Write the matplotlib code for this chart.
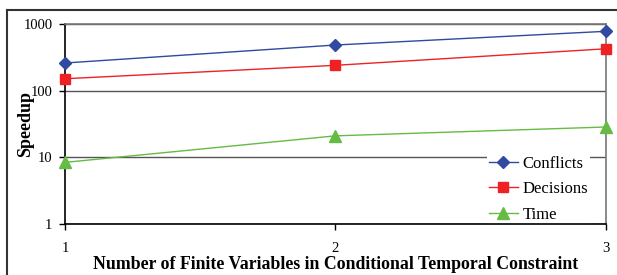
import matplotlib
matplotlib.use("Agg")
import matplotlib.pyplot as plt
from matplotlib.lines import Line2D

plt.rcParams['font.family'] = ['Liberation Serif', 'DejaVu Serif']

num_vars = [1, 2, 3]
conflicts = [260, 484, 777]
decisions = [151, 240, 425]
time_speedup = [8.4, 21, 28.5]
yticks = [1, 10, 100, 1000]

fig = plt.figure(figsize=(6.17, 2.75), dpi=100)
ax = fig.add_axes([0.1053, 0.1855, 0.8767, 0.7272])

ax.plot(num_vars, conflicts, color='#2F4AA0', lw=1, marker='D', ms=6, label='Conflicts', clip_on=False, zorder=5)
ax.plot(num_vars, decisions, color='#EE2224', lw=1, marker='s', ms=7, label='Decisions', clip_on=False, zorder=5)
ax.plot(num_vars, time_speedup, color='#66BB44', lw=1, marker='^', ms=8, label='Time', clip_on=False, zorder=5)

ax.set_yscale('log')
ax.set_ylim(1, 1000)
ax.set_xlim(1, 3)
ax.set_yticks(yticks)
ax.set_yticklabels([str(v) for v in yticks])
ax.minorticks_off()
ax.set_xticks(num_vars)
ax.set_xticklabels([str(v) for v in num_vars])
ax.tick_params(axis='y', direction='out', length=4, width=1, labelsize=10.5, pad=5)
ax.tick_params(axis='x', direction='out', length=4, width=1, labelsize=10.5, pad=9)

ax.grid(axis='y', color='#555555', lw=1)
ax.set_axisbelow(True)
for s in ['left', 'bottom']:
    ax.spines[s].set_color('black')
    ax.spines[s].set_linewidth(1.2)
for s in ['top', 'right']:
    ax.spines[s].set_color('#777777')
    ax.spines[s].set_linewidth(1.2)

ax.set_xlabel('Number of Finite Variables in Conditional Temporal Constraint',
              fontsize=12.8, fontweight='bold', labelpad=1)
ax.set_ylabel('Speedup', fontsize=13, fontweight='bold')
ax.yaxis.set_label_coords(-0.057, 0.5)

leg = ax.legend(loc='lower right', bbox_to_anchor=(0.986, -0.045), frameon=True, fancybox=False,
                edgecolor='none', facecolor='white', framealpha=1, fontsize=12,
                handlelength=1.75, handletextpad=0.3, labelspacing=0.58, borderpad=0.1)
leg.set_zorder(2)

# outer frame of the original figure
fig.add_artist(Line2D([0.0113, 1.0], [0.9636, 0.9636], color='#333333', lw=1.5))
fig.add_artist(Line2D([0.0113, 0.0113], [0.0, 0.9636], color='#333333', lw=1.5))

fig.savefig('out.png', dpi=100)
